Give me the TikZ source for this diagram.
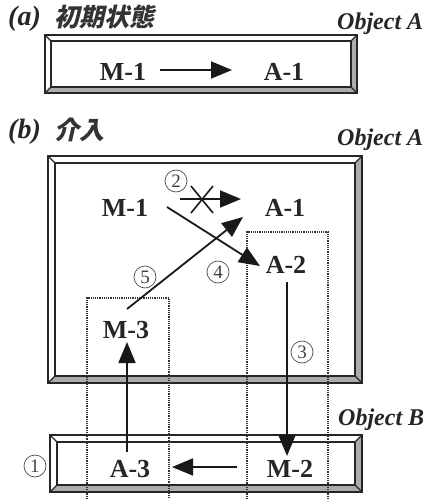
\documentclass[tikz,border=0pt]{standalone}
\usepackage{fontspec}
\setmainfont{Liberation Serif}
\newfontfamily\jfont[FakeSlant=0.22]{Noto Sans CJK JP}
\usetikzlibrary{arrows.meta}
\newcommand\bevelbox[5]{%
  \fill[stripfill] (#1,#4) -- (#3,#4) -- (#3-#5,#4-#5) -- (#1+#5,#4-#5) -- cycle;
  \fill[stripfill] (#3,#2) -- (#3,#4) -- (#3-#5,#4-#5) -- (#3-#5,#2+#5) -- cycle;
  \draw[outerline] (#1,#2) rectangle (#3,#4);
  \draw[innerline] (#1+#5,#2+#5) rectangle (#3-#5,#4-#5);
  \draw[innerline] (#1,#2) -- (#1+#5,#2+#5) (#3,#2) -- (#3-#5,#2+#5)
                   (#1,#4) -- (#1+#5,#4-#5) (#3,#4) -- (#3-#5,#4-#5);
}
\begin{document}
\begin{tikzpicture}[x=1pt,y=-1pt,
  stripfill/.style={fill=gray!65},
  outerline/.style={draw=black!85,line width=2.2pt},
  innerline/.style={draw=black!85,line width=1.4pt},
  lbl/.style={font=\bfseries\fontsize{26}{28}\selectfont,text=black!85,inner sep=0pt},
  objlbl/.style={font=\bfseries\itshape\fontsize{24}{26}\selectfont,text=black!85,inner sep=0pt,anchor=base west},
  partlbl/.style={font=\bfseries\itshape\fontsize{28}{30}\selectfont,text=black!85,inner sep=0pt,anchor=base west},
  jlbl/.style={font=\jfont\bfseries\fontsize{25}{28}\selectfont,text=black!80,inner sep=0pt,anchor=base west},
  num/.style={circle,draw=black!70,line width=0.7pt,minimum size=22pt,inner sep=0pt,
              font=\fontsize{19}{19}\selectfont,text=black!75},
  arr/.style={draw=black!90,line width=1.8pt,-{Triangle[length=21pt,width=17pt]}},
  plain/.style={draw=black!90,line width=1.6pt},
  dotline/.style={draw=black!80,line width=1.2pt,densely dotted}]
\useasboundingbox (0,0) rectangle (424,499);
\fill[white] (0,0) rectangle (424,499);

% ---------- (a) ----------
\node[partlbl] (pa) at (8,25) {(a)};
\node[jlbl] (ja) at (54,26) {初期状態};
\node[objlbl] (oa) at (337,29) {Object A};
\bevelbox{45}{35}{357}{93}{6}
\node[lbl] (m1a) at (123,72) {M-1};
\node[lbl] (a1a) at (284,72) {A-1};
\coordinate (pas) at (160,70);
\coordinate (pae) at (232,70);
\draw[arr] (pas) -- (pae);

% ---------- (b) ----------
\node[partlbl] (pb) at (8,138) {(b)};
\node[jlbl] (jb) at (54,139) {介入};
\node[objlbl] (ob) at (337,145) {Object A};
\bevelbox{48}{156}{362}{383}{7}
\bevelbox{50}{435}{362}{492}{7}

% dotted regions
\draw[dotline] (87,499) -- (87,298) -- (169,298) -- (169,499);
\draw[dotline] (247,499) -- (247,232) -- (328,232) -- (328,499);

\node[lbl] (m1b) at (125,208) {M-1};
\node[lbl] (a1b) at (285,208) {A-1};
\node[lbl] (a2) at (286,265) {A-2};
\node[lbl] (m3) at (126,330) {M-3};
\node[lbl] (a3) at (130,469) {A-3};
\node[lbl] (m2) at (290,469) {M-2};

\node[num] (n1) at (35,466) {1};
\node[num] (n2) at (176,181) {2};
\node[num] (n3) at (302,352) {3};
\node[num] (n4) at (218,272) {4};
\node[num] (n5) at (145,277) {5};

% arrow 2 (blocked)
\coordinate (p2s) at (180,199);
\coordinate (p2e) at (241,199);
\draw[arr] (p2s) -- (p2e);
\coordinate (x1a) at (191,186);
\coordinate (x1b) at (213,213);
\coordinate (x2a) at (191,213);
\coordinate (x2b) at (213,186);
\draw[plain] (x1a) -- (x1b);
\draw[plain] (x2a) -- (x2b);

% arrow 4
\coordinate (p4s) at (167,207);
\coordinate (p4e) at (260,266);
\draw[arr] (p4s) -- (p4e);

% arrow 5
\coordinate (p5s) at (127,309);
\coordinate (p5e) at (243,217);
\draw[arr] (p5s) -- (p5e);

% arrow 3
\coordinate (p3s) at (287,282);
\coordinate (p3e) at (287,456);
\draw[arr] (p3s) -- (p3e);

% arrow A-3 -> M-3
\coordinate (p6s) at (127,452);
\coordinate (p6e) at (127,342);
\draw[arr] (p6s) -- (p6e);

% arrow M-2 -> A-3
\coordinate (p1s) at (237,467);
\coordinate (p1e) at (172,467);
\draw[arr] (p1s) -- (p1e);

\begin{scope}
\clip (0,0) rectangle (424,499);
\node[objlbl] (obB) at (338,425) {Object B};
\end{scope}
\end{tikzpicture}
\end{document}
